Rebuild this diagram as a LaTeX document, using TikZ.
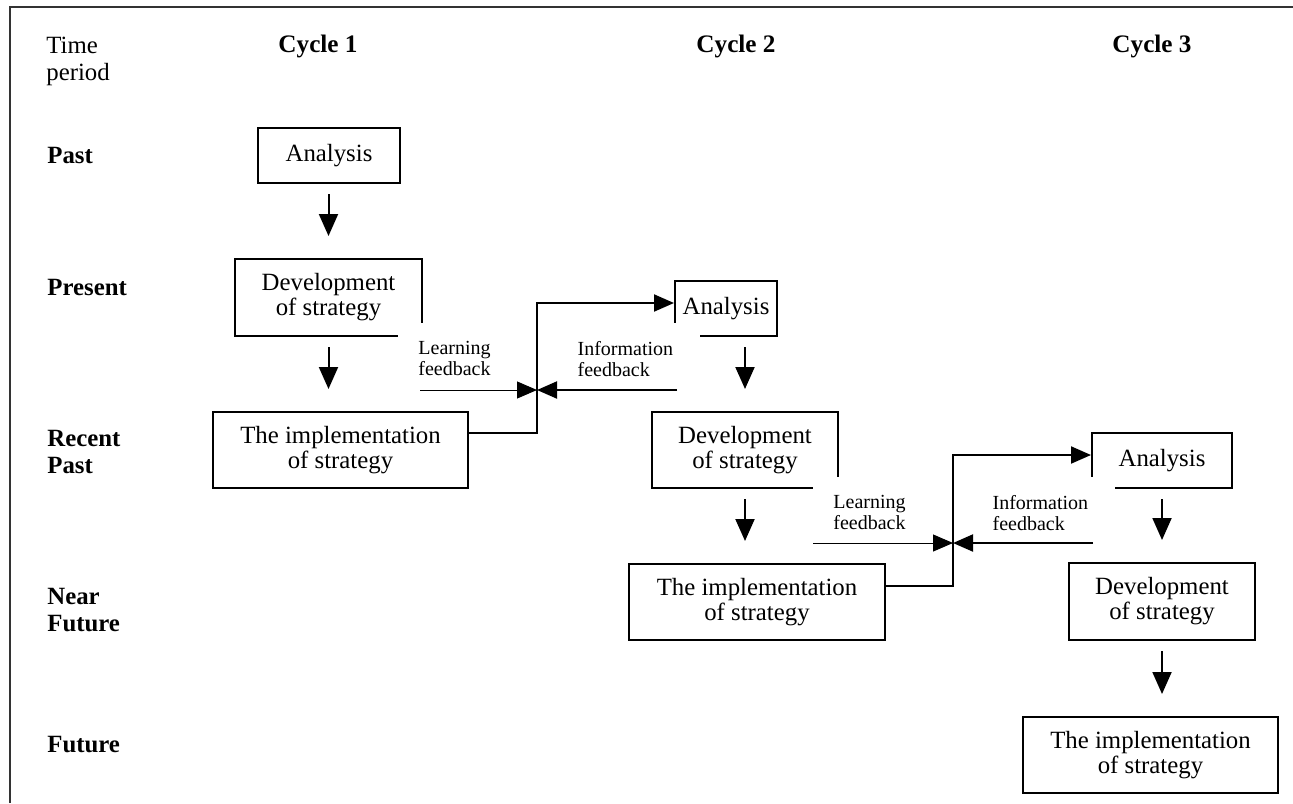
\documentclass[tikz,border=0pt]{standalone}
\usepackage{fontspec}
\setmainfont{Liberation Serif}
\usetikzlibrary{positioning,calc,arrows.meta}
\tikzset{
	chart/.style={x=0.5pt,y=-0.5pt,>={Triangle[length=10pt,width=8.5pt]}},
	stage/.style={draw,line width=1pt,align=center,inner sep=0pt,
		font=\fontsize{12.4}{12.5}\selectfont},
	cycle/.style={font=\bfseries\fontsize{12.6}{13.5}\selectfont,inner sep=0pt},
	period/.style={anchor=west,align=left,inner sep=0pt,
		font=\bfseries\fontsize{12.4}{13.5}\selectfont},
	note/.style={fill=white,align=left,text width=51pt,inner xsep=10pt,inner ysep=9pt,
		font=\fontsize{10}{10.5}\selectfont},
	flow/.style={line width=1pt,-{Triangle[length=11pt,width=9.5pt]},
		shorten <=5pt,shorten >=11pt},
	link/.style={->,line width=1pt},
	learn/.style={->,line width=0.5pt},
	frame/.style={line width=0.8pt,black!80}
}

\begin{document}
\begin{tikzpicture}[chart]
	\useasboundingbox (0,0) rectangle (1293,803);
	\draw[frame] (10,803) -- (10,7) -- (1293,7);
	
	% headings
	\node[anchor=west,align=left,inner sep=0pt,font=\fontsize{12.4}{13.5}\selectfont] (tp) at (46,61) {Time\\period};
	\node[cycle] (c1) at (318,46) {Cycle 1};
	\node[cycle] (c2) at (736,46) {Cycle 2};
	\node[cycle] (c3) at (1152,46) {Cycle 3};
	
	\node[period] (past) at (47,155) {Past};
	\node[period] (pres) at (47,287) {Present};
	\node[period] (rpast) at (47,452) {Recent\\Past};
	\node[period] (nfut) at (47,610) {Near\\Future};
	\node[period] (fut) at (47,745) {Future};
	
	% cycle 1
	\node[stage,minimum width=71pt,minimum height=27.5pt] (a1) at (329,155.5) {Analysis};
	\node[stage,minimum width=93.5pt,minimum height=38.5pt] (d1) at (328.5,297.5) {Development\\of strategy};
	\node[stage,minimum width=127.5pt,minimum height=38pt] (i1) at (340.5,450) {The implementation\\of strategy};
	
	% cycle 2
	\node[stage,minimum width=51pt,minimum height=27.5pt] (a2) at (726,308.5) {Analysis};
	\node[stage,minimum width=93pt,minimum height=38pt] (d2) at (745,450) {Development\\of strategy};
	\node[stage,minimum width=128pt,minimum height=38pt] (i2) at (757,602) {The implementation\\of strategy};
	
	% cycle 3
	\node[stage,minimum width=70pt,minimum height=27.5pt] (a3) at (1162,460.5) {Analysis};
	\node[stage,minimum width=93pt,minimum height=38.5pt] (d3) at (1162,601.5) {Development\\of strategy};
	\node[stage,minimum width=127.5pt,minimum height=38pt] (i3) at (1150.5,755) {The implementation\\of strategy};
	
	% feedback labels
	\node[note,anchor=north west] (lf1) at (398,323) {Learning\\feedback};
	\node[note,anchor=north east] (if1) at (700,323) {Information\\feedback};
	\node[note,anchor=north west] (lf2) at (813,477) {Learning\\feedback};
	\node[note,anchor=north east] (if2) at (1115,477) {Information\\feedback};
	
	\coordinate (j1) at (537,390);
	\coordinate (ls1) at (420,390);
	\coordinate (is1) at (677,390);
	\coordinate (j2) at (953,543);
	\coordinate (ls2) at (813,543);
	\coordinate (is2) at (1093,543);
	
	\draw[flow] (a1.south -| d1.north) -- (d1.north);
	\draw[flow] (d1.south) -- (d1.south |- i1.north);
	\draw[flow] (a2.south -| d2.north) -- (d2.north);
	\draw[flow] (d2.south) -- (d2.south |- i2.north);
	\draw[flow] (a3.south) -- (d3.north);
	\draw[flow] (d3.south) -- (d3.south |- i3.north);
	
	\draw[link] ([yshift=8.5pt]i1.east) -| (j1) |- ([yshift=2.75pt]a2.west);
	\draw[learn] (ls1) -- (j1);
	\draw[link] (is1) -- (j1);
	\draw[link] ([yshift=8pt]i2.east) -| (j2) |- ([yshift=2.75pt]a3.west);
	\draw[learn] (ls2) -- (j2);
	\draw[link] (is2) -- (j2);
\end{tikzpicture}
\end{document}
